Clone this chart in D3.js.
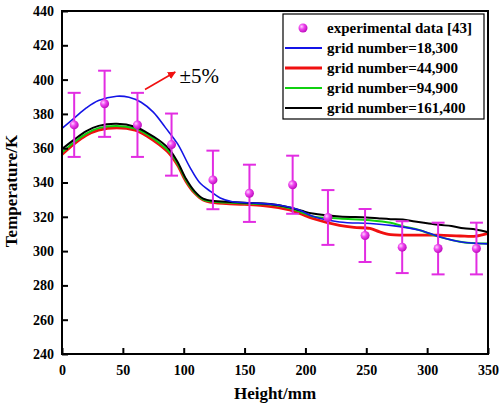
<!DOCTYPE html>
<html><head><meta charset="utf-8">
<script src="https://cdn.jsdelivr.net/npm/d3@7"></script>
<style>body{margin:0;background:#fff}svg{display:block}</style>
</head><body>
<svg id="c" width="500" height="406"></svg>
<script>
const expX = [10, 35, 62, 90, 124, 154, 189.5, 218.5, 249, 279.5, 309, 340.5];
const expY = [373.6, 385.9, 373.6, 362.1, 341.5, 333.7, 338.7, 319.6, 309.1, 302.3, 301.5, 301.5];

const blueX = [0, 10, 20, 30, 45, 55, 65, 75, 85, 95, 105, 113, 122, 130, 140, 160, 180, 195, 206, 228, 253, 270, 294, 310, 327, 350];
const blueY = [371.5, 377.5, 383.5, 387.8, 390.3, 389.7, 386.8, 381, 372, 362.5, 349, 340, 334.8, 331, 328.8, 328, 326.6, 324, 320.3, 317, 316.1, 315, 312.2, 308.4, 305.5, 304.2];

const redX = [0, 10, 20, 30, 45, 60, 70, 80, 88, 95, 102, 109, 116, 125, 135, 150, 165, 187, 197, 206, 228, 240, 253, 261, 270, 280, 294, 310, 327, 340, 350];
const redY = [356.3, 362.5, 367.5, 370.5, 371.9, 370.5, 367, 362, 357, 350, 340.5, 333.8, 329.8, 328.2, 327.7, 327.2, 326.5, 324, 321.5, 319, 315, 313.8, 313.2, 311.2, 309.6, 309.3, 309.3, 309.3, 308.8, 308.7, 310.3];

const greenX = [0, 10, 20, 30, 45, 60, 70, 80, 88, 95, 102, 109, 116, 125, 135, 150, 171, 187, 197, 206, 228, 253, 270, 280, 294, 310, 327, 340, 350];
const greenY = [357.5, 363.5, 368.5, 371.7, 373, 371.5, 368, 363, 358, 351, 341.2, 334.2, 330, 328.7, 328.3, 327.8, 327.2, 325, 322.5, 320.2, 319, 318, 316.5, 314.5, 312.2, 308.3, 305.5, 304.6, 304.5];

const blackX = [0, 10, 20, 30, 45, 60, 70, 80, 88, 95, 102, 109, 116, 125, 135, 150, 171, 187, 197, 206, 228, 250, 261, 270, 280, 290, 300, 310, 320, 330, 340, 350];
const blackY = [359.5, 365, 370, 373, 374.2, 372.5, 369, 364.5, 359.5, 352, 342, 334.8, 330.6, 329.2, 328.8, 328.2, 327.5, 325.5, 323.5, 321.9, 320.2, 319.6, 319, 318.6, 318.4, 317.3, 316.3, 315.3, 314.6, 313.3, 312.6, 311];

const xTicks = [0, 50, 100, 150, 200, 250, 300, 350];
const yTicks = [240, 260, 280, 300, 320, 340, 360, 380, 400, 420, 440];
const legendLabels = ["experimental data [43]", "grid number=18,300", "grid number=44,900", "grid number=94,900", "grid number=161,400"];
const seriesColors = ["#e22de2", "#1414e6", "#f01010", "#10d010", "#000000"];

const W = 500, H = 406;
const m = {l: 62, t: 11, r: 12, b: 52};
const svg = d3.select("#c");
const x = d3.scaleLinear().domain([0, 350]).range([m.l, W - m.r]);
const y = d3.scaleLinear().domain([240, 440]).range([H - m.b, m.t]);
const font = "Liberation Serif";

const defs = svg.append("defs");
const g = defs.append("radialGradient").attr("id", "ball").attr("cx", "35%").attr("cy", "35%").attr("r", "65%");
g.append("stop").attr("offset", "0%").attr("stop-color", "#ffd0ff");
g.append("stop").attr("offset", "45%").attr("stop-color", "#ee44ee");
g.append("stop").attr("offset", "100%").attr("stop-color", "#c010c0");
defs.append("marker").attr("id", "arr").attr("viewBox", "0 0 10 10").attr("refX", 9).attr("refY", 5)
  .attr("markerWidth", 5).attr("markerHeight", 5).attr("orient", "auto")
  .append("path").attr("d", "M0,0 L10,5 L0,10 z").attr("fill", "#f01010");

// Curves
const line = d3.line().x(d => x(d[0])).y(d => y(d[1])).curve(d3.curveCatmullRom.alpha(0.5));
const series = [
  {xs: redX, ys: redY, c: seriesColors[2], w: 2.8},
  {xs: greenX, ys: greenY, c: seriesColors[3], w: 2},
  {xs: blackX, ys: blackY, c: seriesColors[4], w: 2},
  {xs: blueX, ys: blueY, c: seriesColors[1], w: 1.6}
];
series.forEach(s => {
  svg.append("path").datum(s.xs.map((v, i) => [v, s.ys[i]]))
    .attr("d", line).attr("fill", "none").attr("stroke", s.c).attr("stroke-width", s.w);
});

// Error bars
const eb = svg.append("g").attr("stroke", seriesColors[0]).attr("stroke-width", 2);
expX.forEach((v, i) => {
  const lo = expY[i] * 0.95, hi = expY[i] * 1.05;
  eb.append("line").attr("x1", x(v)).attr("x2", x(v)).attr("y1", y(lo)).attr("y2", y(hi));
  eb.append("line").attr("x1", x(v) - 6.5).attr("x2", x(v) + 6.5).attr("y1", y(lo)).attr("y2", y(lo));
  eb.append("line").attr("x1", x(v) - 6.5).attr("x2", x(v) + 6.5).attr("y1", y(hi)).attr("y2", y(hi));
});
svg.append("g").selectAll("circle").data(expX).join("circle")
  .attr("cx", d => x(d)).attr("cy", (d, i) => y(expY[i])).attr("r", 4.5).attr("fill", "url(#ball)");

// Axes
const ax = svg.append("g").attr("transform", `translate(0,${H - m.b})`)
  .call(d3.axisBottom(x).tickValues(xTicks).tickSize(-6).tickPadding(8));
const ay = svg.append("g").attr("transform", `translate(${m.l},0)`)
  .call(d3.axisLeft(y).tickValues(yTicks).tickSize(-6).tickPadding(8));
[ax, ay].forEach(a => {
  a.select(".domain").remove();
  a.selectAll(".tick line").attr("stroke", "#000").attr("stroke-width", 2);
  a.selectAll("text").attr("font-family", font).attr("font-weight", "bold").attr("font-size", 14).attr("fill", "#000");
});
ax.selectAll("text").attr("dy", "0.9em");
svg.append("rect").attr("x", m.l).attr("y", m.t).attr("width", W - m.l - m.r).attr("height", H - m.t - m.b)
  .attr("fill", "none").attr("stroke", "#000").attr("stroke-width", 2);

// Titles
svg.append("text").attr("x", (m.l + W - m.r) / 2).attr("y", 399).attr("text-anchor", "middle")
  .attr("font-family", font).attr("font-weight", "bold").attr("font-size", 17).text("Height/mm");
svg.append("text").attr("transform", "translate(17,191) rotate(-90)").attr("text-anchor", "middle")
  .attr("font-family", font).attr("font-weight", "bold").attr("font-size", 17).text("Temperature/K");

// Annotation
svg.append("line").attr("x1", x(68.2)).attr("y1", y(394.2)).attr("x2", x(93)).attr("y2", y(404.4))
  .attr("stroke", "#f01010").attr("stroke-width", 1.6).attr("marker-end", "url(#arr)");
svg.append("text").attr("x", x(96.5)).attr("y", y(402.5)).attr("dy", "0.35em")
  .attr("font-family", "Liberation Serif, serif").attr("font-size", 21).text("±5%");

// Legend
const lg = svg.append("g");
lg.append("rect").attr("x", 283).attr("y", 14).attr("width", 201).attr("height", 105)
  .attr("fill", "#fff").attr("stroke", "#000").attr("stroke-width", 1.2);
legendLabels.forEach((t, i) => {
  const cy = 28 + i * 20;
  if (i === 0) {
    lg.append("circle").attr("cx", 303).attr("cy", cy).attr("r", 4.5).attr("fill", "url(#ball)");
  } else {
    lg.append("line").attr("x1", 285).attr("x2", 322).attr("y1", cy).attr("y2", cy)
      .attr("stroke", seriesColors[i]).attr("stroke-width", i === 2 ? 2.8 : 2);
  }
  lg.append("text").attr("x", 327).attr("y", cy).attr("dy", "0.35em")
    .attr("font-family", font).attr("font-weight", "bold").attr("font-size", 15).text(t);
});
</script>
</body></html>
